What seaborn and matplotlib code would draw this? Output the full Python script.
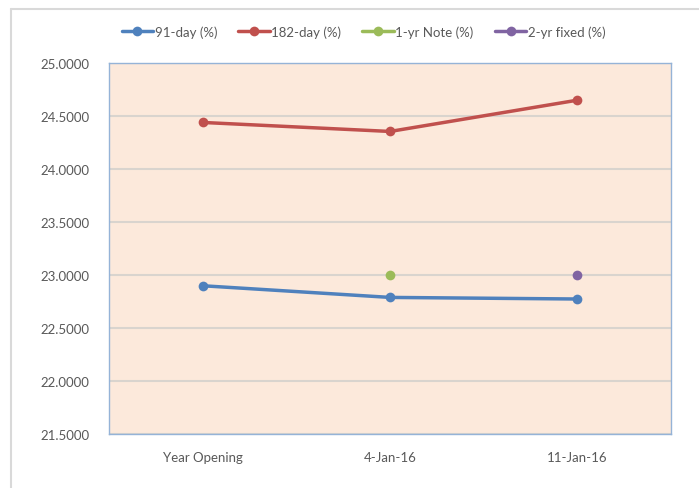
import matplotlib
matplotlib.use("Agg")
import matplotlib.pyplot as plt
import seaborn as sns
import pandas as pd
from matplotlib.lines import Line2D

categories = ["Year Opening", "4-Jan-16", "11-Jan-16"]
day91 = [22.90, 22.79, 22.775]
day182 = [24.44, 24.355, 24.65]
note1yr = [None, 23.00, None]
fixed2yr = [None, None, 23.00]
series_names = ["91-day (%)", "182-day (%)", "1-yr Note (%)", "2-yr fixed (%)"]
colors = ["#4F81BD", "#C0504D", "#9BBB59", "#8064A2"]
yticks = [21.5, 22.0, 22.5, 23.0, 23.5, 24.0, 24.5, 25.0]

rows = []
for name, vals in zip(series_names, [day91, day182, note1yr, fixed2yr]):
    for i, v in enumerate(vals):
        if v is not None:
            rows.append({"x": i, "value": v, "series": name})
df = pd.DataFrame(rows)

sns.set_theme(style="white")
plt.rcParams["font.family"] = ["Lato", "DejaVu Sans"]

fig = plt.figure(figsize=(6.99, 4.89), dpi=100)
ax = fig.add_axes([0.156, 0.110, 0.804, 0.759])
ax.set_facecolor("#FCE9DB")

sns.lineplot(data=df, x="x", y="value", hue="series", hue_order=series_names,
             palette=colors, marker="o", markersize=7, markeredgewidth=0,
             linewidth=2.5, ax=ax, legend=False, zorder=3)

ax.set_xlim(-0.5, 2.5)
ax.set_ylim(21.5, 25.0)
ax.set_yticks(yticks)
ax.set_yticklabels([f"{v:.4f}" for v in yticks])
ax.set_xticks(range(len(categories)))
ax.set_xticklabels(categories)
ax.set_xlabel("")
ax.set_ylabel("")
ax.grid(axis="y", color="#D9D4CE", linewidth=1.5, zorder=0)
ax.grid(axis="x", visible=False)
ax.set_axisbelow(True)
for s in ax.spines.values():
    s.set_color("#95B3D7")
    s.set_linewidth(1.0)
ax.tick_params(axis="both", length=0, labelsize=9.5, labelcolor="#595959")
ax.tick_params(axis="y", pad=14)
ax.tick_params(axis="x", pad=12)

handles = [Line2D([0], [0], color=c, linewidth=2.5, marker="o", markersize=7,
                  markeredgewidth=0) for c in colors]
fig.legend(handles, series_names, loc="center", bbox_to_anchor=(0.52, 0.933),
           ncol=4, frameon=False, fontsize=9.5, labelcolor="#595959",
           handlelength=2.4, handletextpad=0.1, columnspacing=1.6)

fig.add_artist(Line2D([11/699, 1.0], [1 - 10/489, 1 - 10/489],
                      color="#D9D9D9", linewidth=1.5, transform=fig.transFigure))
fig.add_artist(Line2D([11/699, 11/699], [0, 1 - 10/489],
                      color="#D9D9D9", linewidth=1.5, transform=fig.transFigure))

fig.savefig("out.png", dpi=100, facecolor="white")
